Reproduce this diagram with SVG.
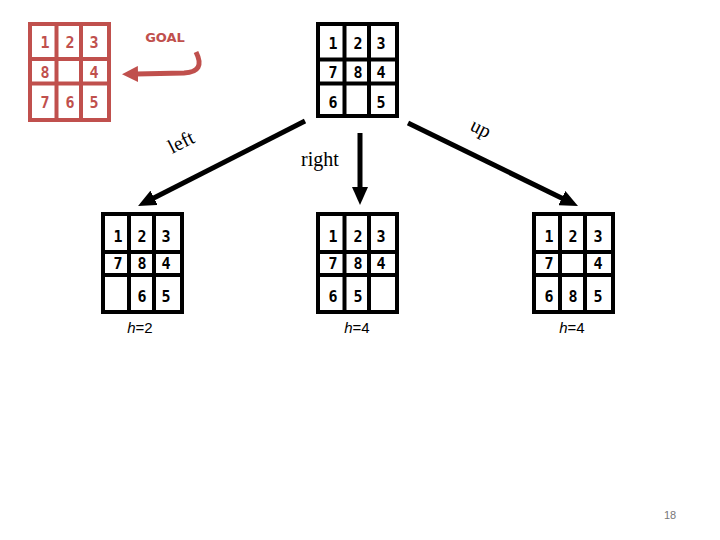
<svg xmlns="http://www.w3.org/2000/svg" width="720" height="540" viewBox="0 0 720 540">
<style>
.gr{fill:none;stroke:#000;stroke-width:4}
.gg{fill:none;stroke:#c0504d;stroke-width:4}
.d{font-family:"DejaVu Sans Mono","Liberation Mono",monospace;font-weight:bold;font-size:15px;text-anchor:middle;fill:#000}
.dr{fill:#c0504d}
.lab{font-family:"Liberation Serif","DejaVu Serif",serif;font-size:20px;fill:#000;text-anchor:middle}
.h{font-family:"Liberation Sans","DejaVu Sans",sans-serif;font-size:15px;fill:#000;text-anchor:middle}
.arr{stroke:#000;stroke-width:5;fill:none}
</style>
<defs>
<marker id="ah" markerUnits="userSpaceOnUse" markerWidth="18" markerHeight="16" refX="2" refY="8" orient="auto"><path d="M0,0 L18,8 L0,16 z" fill="#000"/></marker>
<marker id="ahr" markerUnits="userSpaceOnUse" markerWidth="16" markerHeight="16" refX="2" refY="8" orient="auto"><path d="M0,0 L16,8 L0,16 z" fill="#c0504d"/></marker>
</defs>
<rect width="720" height="540" fill="#fff"/>

<g id="goal">
<rect class="gg" x="30" y="24" width="79" height="96"/>
<line class="gg" x1="56.5" y1="24" x2="56.5" y2="120"/>
<line class="gg" x1="81" y1="24" x2="81" y2="120"/>
<line class="gg" x1="30" y1="59" x2="109" y2="59"/>
<line class="gg" x1="30" y1="83.5" x2="109" y2="83.5"/>
<text class="d dr" x="45" y="48">1</text><text class="d dr" x="70" y="48">2</text><text class="d dr" x="94" y="48">3</text>
<text class="d dr" x="45" y="78">8</text><text class="d dr" x="94" y="78">4</text>
<text class="d dr" x="45" y="108">7</text><text class="d dr" x="70" y="108">6</text><text class="d dr" x="94" y="108">5</text>
<text x="165" y="42" font-family="Verdana,'DejaVu Sans',sans-serif" font-size="13" font-weight="bold" fill="#c0504d" text-anchor="middle">GOAL</text>
<path d="M196,52 Q206,72 184,73 L136,74" stroke="#c0504d" stroke-width="5" fill="none" marker-end="url(#ahr)"/>
</g>

<g id="start">
<rect class="gr" x="318" y="24" width="79" height="92"/>
<line class="gr" x1="344.5" y1="24" x2="344.5" y2="116"/>
<line class="gr" x1="369" y1="24" x2="369" y2="116"/>
<line class="gr" x1="318" y1="59.5" x2="397" y2="59.5"/>
<line class="gr" x1="318" y1="83.5" x2="397" y2="83.5"/>
<text class="d" x="333" y="49">1</text><text class="d" x="358" y="49">2</text><text class="d" x="381" y="49">3</text>
<text class="d" x="333" y="78">7</text><text class="d" x="358" y="78">8</text><text class="d" x="381" y="78">4</text>
<text class="d" x="333" y="108">6</text><text class="d" x="381" y="108">5</text>
</g>

<g id="connectors">
<line class="arr" x1="305" y1="121" x2="152.3" y2="198.7" marker-end="url(#ah)"/>
<line class="arr" x1="360" y1="133" x2="360" y2="189" marker-end="url(#ah)"/>
<line class="arr" x1="408" y1="123" x2="563.6" y2="199" marker-end="url(#ah)"/>
<text class="lab" transform="translate(184,148) rotate(-27)">left</text>
<text class="lab" x="320" y="166">right</text>
<text class="lab" transform="translate(478,134) rotate(27)">up</text>
</g>

<g id="left-child">
<rect class="gr" x="103" y="214" width="79" height="98"/>
<line class="gr" x1="129" y1="214" x2="129" y2="312"/>
<line class="gr" x1="154" y1="214" x2="154" y2="312"/>
<line class="gr" x1="103" y1="252" x2="182" y2="252"/>
<line class="gr" x1="103" y1="275" x2="182" y2="275"/>
<text class="d" x="118" y="242">1</text><text class="d" x="142" y="242">2</text><text class="d" x="166" y="242">3</text>
<text class="d" x="118" y="269">7</text><text class="d" x="142" y="269">8</text><text class="d" x="166" y="269">4</text>
<text class="d" x="142" y="302">6</text><text class="d" x="166" y="302">5</text>
<text class="h" x="140" y="333"><tspan font-style="italic">h</tspan>=2</text>
</g>

<g id="mid-child">
<rect class="gr" x="318" y="214" width="79" height="98"/>
<line class="gr" x1="344.5" y1="214" x2="344.5" y2="312"/>
<line class="gr" x1="369" y1="214" x2="369" y2="312"/>
<line class="gr" x1="318" y1="252" x2="397" y2="252"/>
<line class="gr" x1="318" y1="275" x2="397" y2="275"/>
<text class="d" x="333" y="242">1</text><text class="d" x="358" y="242">2</text><text class="d" x="381" y="242">3</text>
<text class="d" x="333" y="269">7</text><text class="d" x="358" y="269">8</text><text class="d" x="381" y="269">4</text>
<text class="d" x="333" y="302">6</text><text class="d" x="358" y="302">5</text>
<text class="h" x="357" y="333"><tspan font-style="italic">h</tspan>=4</text>
</g>

<g id="right-child">
<rect class="gr" x="534" y="214" width="79" height="98"/>
<line class="gr" x1="560" y1="214" x2="560" y2="312"/>
<line class="gr" x1="585" y1="214" x2="585" y2="312"/>
<line class="gr" x1="534" y1="252" x2="613" y2="252"/>
<line class="gr" x1="534" y1="275" x2="613" y2="275"/>
<text class="d" x="549" y="242">1</text><text class="d" x="573" y="242">2</text><text class="d" x="598" y="242">3</text>
<text class="d" x="549" y="269">7</text><text class="d" x="598" y="269">4</text>
<text class="d" x="549" y="302">6</text><text class="d" x="573" y="302">8</text><text class="d" x="598" y="302">5</text>
<text class="h" x="572" y="333"><tspan font-style="italic">h</tspan>=4</text>
</g>

<text x="670" y="519" font-family="'Liberation Sans',sans-serif" font-size="11" fill="#777" text-anchor="middle">18</text>
</svg>
